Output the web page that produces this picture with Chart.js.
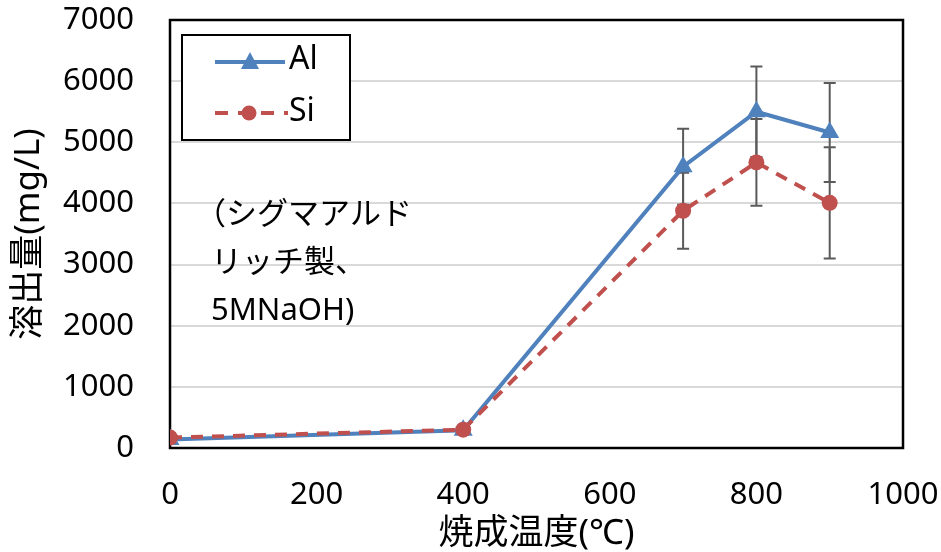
<!DOCTYPE html>
<html>
<head>
<meta charset="utf-8">
<script src="https://cdn.jsdelivr.net/npm/chart.js@4.4.1/dist/chart.umd.min.js"></script>
<style>
  html, body { margin: 0; padding: 0; background: #fff; }
  #wrap { width: 941px; height: 552px; }
</style>
</head>
<body>
<div id="wrap"><canvas id="elutionChart"></canvas></div>
<script>
// datos
const temps = [0, 400, 700, 800, 900];
const alValues = [140, 290, 4600, 5500, 5160];
const siValues = [170, 300, 3880, 4670, 4010];
const alErrors = [0, 0, 620, 740, 810];
const siErrors = [0, 0, 620, 710, 910];
const xTicks = [0, 200, 400, 600, 800, 1000];
const yTicks = [0, 1000, 2000, 3000, 4000, 5000, 6000, 7000];
const noteLines = ['（シグマアルド', 'リッチ製、', '5MNaOH)'];

const FONT = "'Noto Sans', 'Noto Sans CJK JP', sans-serif";
const BLUE = '#4f81bd';
const RED = '#c0504d';

// marco del area del grafico
const framePlugin = {
    id: 'frame',
    beforeDatasetsDraw(chart) {
        const a = chart.chartArea;
        const ctx = chart.ctx;
        ctx.save();
        ctx.strokeStyle = '#000';
        ctx.lineWidth = 2.5;
        ctx.strokeRect(a.left, a.top, a.right - a.left, a.bottom - a.top);
        ctx.restore();
    }
};

// barras de error
const errorBarPlugin = {
    id: 'errorBars',
    beforeDatasetsDraw(chart) {
        const ctx = chart.ctx;
        const xs = chart.scales.x;
        const ys = chart.scales.y;
        ctx.save();
        ctx.strokeStyle = '#5a5a5a';
        ctx.lineWidth = 2;
        [[alValues, alErrors], [siValues, siErrors]].forEach(([vals, errs]) => {
            temps.forEach((t, i) => {
                if (!errs[i]) return;
                const px = xs.getPixelForValue(t);
                const top = ys.getPixelForValue(vals[i] + errs[i]);
                const bot = ys.getPixelForValue(vals[i] - errs[i]);
                ctx.beginPath();
                ctx.moveTo(px, top); ctx.lineTo(px, bot);
                ctx.moveTo(px - 6, top); ctx.lineTo(px + 6, top);
                ctx.moveTo(px - 6, bot); ctx.lineTo(px + 6, bot);
                ctx.stroke();
            });
        });
        ctx.restore();
    }
};

// leyenda dentro del area y nota de texto
const legendNotePlugin = {
    id: 'legendNote',
    afterDraw(chart) {
        const ctx = chart.ctx;
        ctx.save();
        ctx.strokeStyle = '#000';
        ctx.lineWidth = 2;
        ctx.fillStyle = '#fff';
        ctx.fillRect(182, 35, 168, 105);
        ctx.strokeRect(182, 35, 168, 105);

        // Al
        ctx.strokeStyle = BLUE;
        ctx.lineWidth = 4;
        ctx.beginPath(); ctx.moveTo(215, 62); ctx.lineTo(285, 62); ctx.stroke();
        ctx.fillStyle = BLUE;
        ctx.beginPath(); ctx.moveTo(250, 52); ctx.lineTo(259, 69); ctx.lineTo(241, 69); ctx.closePath(); ctx.fill();

        // Si
        ctx.strokeStyle = RED;
        ctx.setLineDash([13, 10]);
        ctx.beginPath(); ctx.moveTo(215, 113); ctx.lineTo(288, 113); ctx.stroke();
        ctx.setLineDash([]);
        ctx.fillStyle = RED;
        ctx.beginPath(); ctx.arc(249, 113, 7.5, 0, Math.PI * 2); ctx.fill();

        ctx.fillStyle = '#000';
        ctx.font = '32px ' + FONT;
        ctx.textBaseline = 'middle';
        ctx.fillText('Al', 289, 60);
        ctx.fillText('Si', 289, 112);

        ctx.font = '31px ' + FONT;
        noteLines.forEach((line, i) => {
            ctx.fillText(line, i === 0 ? 195 : 211, 215 + i * 48);
        });
        ctx.restore();
    }
};

document.addEventListener('DOMContentLoaded', () => {
    const ctx = document.getElementById('elutionChart').getContext('2d');
    new Chart(ctx, {
        type: 'scatter',
        data: {
            datasets: [{
                label: 'Si',
                data: temps.map((t, i) => ({ x: t, y: siValues[i] })),
                showLine: true,
                borderColor: RED,
                backgroundColor: RED,
                borderWidth: 4,
                borderDash: [12, 9],
                pointStyle: 'circle',
                pointRadius: 8,
                pointBorderWidth: 0,
                order: 0
            }, {
                label: 'Al',
                data: temps.map((t, i) => ({ x: t, y: alValues[i] })),
                showLine: true,
                borderColor: BLUE,
                backgroundColor: BLUE,
                borderWidth: 4,
                pointStyle: 'triangle',
                pointRadius: 11,
                pointBorderWidth: 0,
                order: 1
            }]
        },
        options: {
            responsive: true,
            maintainAspectRatio: false,
            animation: false,
            layout: { padding: { top: 20, right: 38, left: 0, bottom: 0 } },
            plugins: {
                legend: { display: false },
                tooltip: { enabled: false }
            },
            scales: {
                x: {
                    type: 'linear',
                    min: 0,
                    max: 1000,
                    afterBuildTicks: s => { s.ticks = xTicks.map(v => ({ value: v })); },
                    afterFit: s => { s.height = 104; s.paddingLeft = 0; s.paddingRight = 0; },
                    grid: { display: false, drawTicks: false },
                    border: { display: false },
                    ticks: { color: '#000', font: { family: FONT, size: 31 }, padding: 29, maxRotation: 0, callback: v => String(v) },
                    title: {
                        display: true,
                        text: '焼成温度(℃)',
                        color: '#000',
                        font: { family: FONT, size: 35, lineHeight: 1 },
                        padding: { top: 0, bottom: 0 }
                    }
                },
                y: {
                    min: 0,
                    max: 7000,
                    afterBuildTicks: s => { s.ticks = yTicks.map(v => ({ value: v })); },
                    afterFit: s => { s.width = 170; s.paddingTop = 0; s.paddingBottom = 0; },
                    grid: { color: '#d9d9d9', lineWidth: 2, drawTicks: false },
                    border: { display: false },
                    ticks: { color: '#000', font: { family: FONT, size: 31 }, padding: 36, callback: v => String(v) },
                    title: {
                        display: true,
                        text: '溶出量(mg/L)',
                        color: '#000',
                        font: { family: FONT, size: 35, lineHeight: 1 },
                        padding: { top: 12, bottom: 0 }
                    }
                }
            }
        },
        plugins: [framePlugin, errorBarPlugin, legendNotePlugin]
    });
});
</script>
</body>
</html>
